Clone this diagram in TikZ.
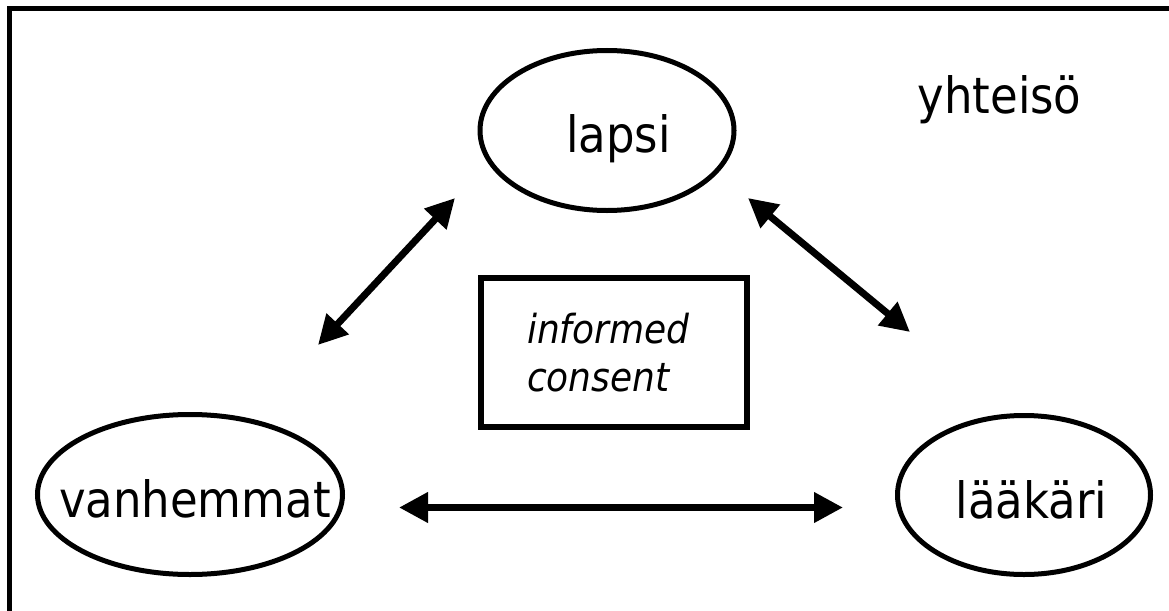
\documentclass[tikz,border=0pt]{standalone}
\usepackage{fontspec}
\setmainfont{DejaVu Sans Condensed}
\usetikzlibrary{shapes.geometric,arrows.meta}
\begin{document}
\begin{tikzpicture}[x=1pt,y=-1pt,
  oval/.style={draw,ellipse,line width=5pt,inner sep=0pt,minimum height=160pt},
  lbl/.style={font=\fontsize{50}{60}\selectfont,anchor=base,inner sep=0pt},
  tip/.tip={Triangle[length=29pt,width=29pt]},
  link/.style={line width=7pt,tip-tip},
  frame/.style={line width=5pt,line join=miter}
]
\useasboundingbox (0,0) rectangle (1169,610);
\clip (0,0) rectangle (1169,610);
% outer frame (only top and left edges fall inside the picture)
\coordinate (fr1) at (1200,9);
\coordinate (fr2) at (9.5,9);
\coordinate (fr3) at (9.5,640);
\draw[frame] (fr1) -- (fr2) -- (fr3);

% nodes
\node[oval,minimum width=254pt] (lapsi) at (607,130.5) {};
\node[lbl] (lapsitxt) at (618.5,152) {lapsi};
\node[oval,minimum width=305pt] (vanh) at (190,494.5) {};
\node[lbl] (vanhtxt) at (195,517) {vanhemmat};
\node[oval,minimum width=253pt,minimum height=159pt] (laak) at (1024,495) {};
\node[lbl] (laaktxt) at (1031.5,518) {lääkäri};
\node[lbl] (yht) at (999.5,113) {yhteisö};
\node[draw,line width=6pt,minimum width=266pt,minimum height=149pt,inner sep=0pt,
      text width=174pt,align=left,font=\itshape\fontsize{40}{48}\selectfont] (ic) at (614,352.5) {informed\\consent};

% connector end points
\coordinate (a1) at (318,345);
\coordinate (a2) at (455,198);
\coordinate (b1) at (748,198);
\coordinate (b2) at (910,332);
\coordinate (c1) at (399,507.5);
\coordinate (c2) at (843,507.5);
\draw[link] (a1) -- (a2);
\draw[link] (b1) -- (b2);
\draw[link] (c1) -- (c2);
\end{tikzpicture}
\end{document}
